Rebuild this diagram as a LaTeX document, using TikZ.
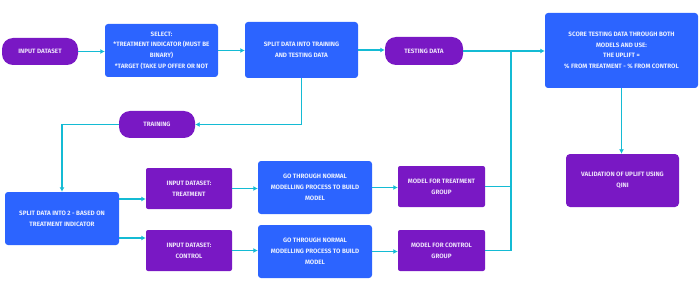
\documentclass[tikz,border=0pt]{standalone}
\usepackage{fontspec}
\setmainfont{Fira Sans}
\usetikzlibrary{arrows.meta}

\definecolor{boxblue}{RGB}{44,100,255}
\definecolor{boxpurple}{RGB}{121,24,196}
\definecolor{flowcyan}{RGB}{20,187,212}
\definecolor{bluetext}{RGB}{232,238,255}
\definecolor{purpletext}{RGB}{236,224,250}

\tikzset{
  every node/.style={font=\fontsize{6.3}{10.7}\selectfont\bfseries, align=center, inner sep=2pt},
  bluebox/.style={fill=boxblue, text=bluetext, rounded corners=3pt},
  purplebox/.style={fill=boxpurple, text=purpletext, rounded corners=2pt},
  pill/.style={fill=boxpurple, text=purpletext, rounded corners=11pt},
  flow/.style={draw=flowcyan, line width=1.2pt, -{Latex[length=4.5pt,width=5pt]}},
  link/.style={draw=flowcyan, line width=1.2pt}
}

\begin{document}
\begin{tikzpicture}[x=1pt,y={(0pt,-1pt)}]
\useasboundingbox (0,0) rectangle (700,291);

% Top row
\node[pill, minimum width=76pt, minimum height=27pt] (inp) at (40,51.5) {INPUT DATASET};
\node[bluebox, minimum width=113pt, minimum height=53pt] (sel) at (161.5,50.5)
  {SELECT:\\ *TREATMENT INDICATOR (MUST BE\\ BINARY)\\ *TARGET (TAKE UP OFFER OR NOT};
\node[bluebox, minimum width=113pt, minimum height=56pt] (split) at (301.5,50)
  {SPLIT DATA INTO TRAINING\\ AND TESTING DATA};
\node[pill, minimum width=78pt, minimum height=28pt] (test) at (424,51) {TESTING DATA};
\node[bluebox, minimum width=153pt, minimum height=75pt] (score) at (621.5,50.5)
  {SCORE TESTING DATA THROUGH BOTH\\ MODELS AND USE:\\ THE UPLIFT =\\ \% FROM TREATMENT - \% FROM CONTROL};

% Training branch
\node[pill, minimum width=76pt, minimum height=27pt] (train) at (157,124.5) {TRAINING};
\node[bluebox, minimum width=114pt, minimum height=53pt] (split2) at (62,218.5)
  {SPLIT DATA INTO 2 - BASED ON\\ TREATMENT INDICATOR};

% Treatment row
\node[purplebox, minimum width=86pt, minimum height=41pt] (treatin) at (189,188.5)
  {INPUT DATASET:\\ TREATMENT};
\node[bluebox, minimum width=114pt, minimum height=53pt] (gotreat) at (315,187.5)
  {GO THROUGH NORMAL\\ MODELLING PROCESS TO BUILD\\ MODEL};
\node[purplebox, minimum width=87pt, minimum height=41pt] (modtreat) at (441.5,186.5)
  {MODEL FOR TREATMENT\\ GROUP};

% Control row
\node[purplebox, minimum width=86pt, minimum height=41pt] (ctrlin) at (189,250.5)
  {INPUT DATASET:\\ CONTROL};
\node[bluebox, minimum width=114pt, minimum height=53pt] (goctrl) at (315,251.5)
  {GO THROUGH NORMAL\\ MODELLING PROCESS TO BUILD\\ MODEL};
\node[purplebox, minimum width=87pt, minimum height=41pt] (modctrl) at (441.5,250.5)
  {MODEL FOR CONTROL\\ GROUP};

% Validation
\node[purplebox, rounded corners=4pt, minimum width=113pt, minimum height=53pt] (valid) at (622.5,180.5)
  {VALIDATION OF UPLIFT USING\\ QINI};

\coordinate (join) at (511,51);

% Connectors
\draw[flow] (inp.east) -- (inp.east -| sel.west);
\draw[flow] (sel.east) -- (sel.east -| split.west);
\draw[flow] (split.east) -- (split.east -| test.west);
\draw[flow] (test.east) -- (test.east -| score.west);
\draw[flow] (split.south) |- (train.east);
\draw[flow] (train.west) -| (split2.north);
\draw[flow] ([yshift=-19.5pt]split2.east) -- ([yshift=-19.5pt]split2.east -| treatin.west);
\draw[flow] ([yshift=19.5pt]split2.east) -- ([yshift=19.5pt]split2.east -| ctrlin.west);
\draw[flow] (treatin.east) -- (treatin.east -| gotreat.west);
\draw[flow] (ctrlin.east) -- (ctrlin.east -| goctrl.west);
\draw[flow] (gotreat.east) -- (gotreat.east -| modtreat.west);
\draw[flow] (goctrl.east) -- (goctrl.east -| modctrl.west);
\draw[link] (modtreat.east) -| (join);
\draw[link] (modctrl.east) -| (join);
\draw[flow] (score.south) -- (score.south |- valid.north);

\end{tikzpicture}
\end{document}
